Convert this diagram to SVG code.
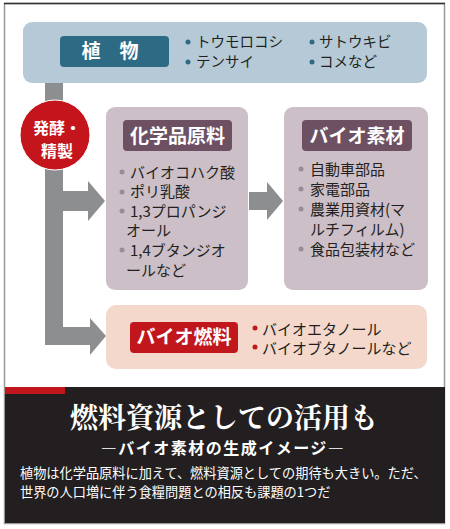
<svg xmlns="http://www.w3.org/2000/svg" width="450" height="529" viewBox="0 0 450 529">
<style>
text{font-family:"Noto Sans CJK JP","Noto Sans",sans-serif;}
.item{font-size:15px;fill:#231f20;}
.pitem{font-size:14.5px;fill:#231f20;}
.lbl{font-size:19px;font-weight:bold;fill:#fff;text-anchor:middle;}
.conn{fill:#8d8e90;}
.card{fill:#cdbfc7;}
.clbl{fill:#6d5061;}
.cdot{fill:#9d8a95;}
.pdot{fill:#2d6a84;}
.fdot{fill:#c1161c;}
</style>
<rect x="0" y="0" width="450" height="529" fill="#fff"/>
<rect x="4.5" y="3.5" width="440" height="520" fill="#fff" stroke="#9a9a9a" stroke-width="1.5"/>
<line x1="4" y1="3.5" x2="445" y2="3.5" stroke="#333" stroke-width="1.5"/>

<g id="connectors">
  <rect class="conn" x="45" y="83" width="18" height="262"/>
  <rect class="conn" x="45" y="191" width="44" height="20"/>
  <polygon class="conn" points="88,181 105,201 88,221"/>
  <rect class="conn" x="45" y="327" width="46" height="18"/>
  <polygon class="conn" points="90,318 106,336 90,355"/>
  <rect class="conn" x="249" y="192" width="19" height="18"/>
  <polygon class="conn" points="267,182 283,201 267,220"/>
</g>

<g id="plant">
  <rect x="23" y="22" width="404" height="61" rx="9" fill="#b5cad6"/>
  <rect x="60" y="36" width="109" height="31" rx="4" fill="#2d6a84"/>
  <text x="110" y="58" style="font-size:19px;font-weight:bold;fill:#fff;text-anchor:middle">植　物</text>
  <circle class="pdot" cx="188" cy="42" r="2.5"/>
  <text class="pitem" x="196" y="47">トウモロコシ</text>
  <circle class="pdot" cx="188" cy="62" r="2.5"/>
  <text class="pitem" x="196" y="67">テンサイ</text>
  <circle class="pdot" cx="312" cy="42" r="2.5"/>
  <text class="pitem" x="319" y="47">サトウキビ</text>
  <circle class="pdot" cx="312" cy="62" r="2.5"/>
  <text class="pitem" x="319" y="67">コメなど</text>
</g>

<g id="process">
  <circle cx="55" cy="135" r="35" fill="#c4141c" stroke="#fff" stroke-width="1"/>
  <text x="57" y="134" style="font-size:16px;font-weight:bold;fill:#fff;text-anchor:middle">発酵・</text>
  <text x="57" y="157" style="font-size:16px;font-weight:bold;fill:#fff;text-anchor:middle">精製</text>
</g>

<g id="chemical">
  <rect class="card" x="106" y="107" width="142" height="183" rx="9"/>
  <rect class="clbl" x="123" y="120" width="109" height="31" rx="4"/>
  <text class="lbl" x="177.5" y="143">化学品原料</text>
  <circle class="cdot" cx="122" cy="172" r="2.5"/>
  <text class="item" x="130" y="178">バイオコハク酸</text>
  <circle class="cdot" cx="122" cy="192" r="2.5"/>
  <text class="item" x="130" y="197">ポリ乳酸</text>
  <circle class="cdot" cx="122" cy="211" r="2.5"/>
  <text class="item" x="130" y="217">1,3プロパンジ</text>
  <text class="item" x="126" y="236">オール</text>
  <circle class="cdot" cx="122" cy="250" r="2.5"/>
  <text class="item" x="130" y="256">1,4ブタンジオ</text>
  <text class="item" x="126" y="276">ールなど</text>
</g>

<g id="biomaterial">
  <rect class="card" x="284" y="107" width="144" height="183" rx="9"/>
  <rect class="clbl" x="302" y="120" width="110" height="31" rx="4"/>
  <text class="lbl" x="357" y="143">バイオ素材</text>
  <circle class="cdot" cx="301" cy="169" r="2.5"/>
  <text class="item" x="310" y="175">自動車部品</text>
  <circle class="cdot" cx="301" cy="189" r="2.5"/>
  <text class="item" x="310" y="195">家電部品</text>
  <circle class="cdot" cx="301" cy="209" r="2.5"/>
  <text class="item" x="310" y="215">農業用資材(マ</text>
  <text class="item" x="310" y="235">ルチフィルム)</text>
  <circle class="cdot" cx="301" cy="249" r="2.5"/>
  <text class="item" x="310" y="255">食品包装材など</text>
</g>

<g id="fuel">
  <rect x="106" y="305" width="321" height="64" rx="10" fill="#f3d8cb"/>
  <rect x="130" y="322" width="108" height="31" rx="4" fill="#c1161c"/>
  <text class="lbl" x="184" y="344">バイオ燃料</text>
  <circle class="fdot" cx="255" cy="328" r="2.5"/>
  <text class="item" x="262" y="335">バイオエタノール</text>
  <circle class="fdot" cx="255" cy="347" r="2.5"/>
  <text class="item" x="262" y="354">バイオブタノールなど</text>
</g>

<g id="caption">
  <rect x="5" y="387" width="440" height="136" fill="#231f20"/>
  <rect x="5" y="387" width="60" height="7" fill="#c1161c"/>
  <text x="224" y="428" style="font-family:'Noto Serif CJK JP','Liberation Serif','Noto Sans CJK JP',serif;font-size:28px;font-weight:bold;fill:#fff;text-anchor:middle">燃料資源としての活用も</text>
  <text x="223" y="454" style="font-size:16px;font-weight:bold;fill:#fff;text-anchor:middle;letter-spacing:1.5px">―バイオ素材の生成イメージ―</text>
  <text x="20" y="478" style="font-size:13.2px;fill:#fff">植物は化学品原料に加えて、燃料資源としての期待も大きい。ただ、</text>
  <text x="20" y="497" style="font-size:13.2px;fill:#fff">世界の人口増に伴う食糧問題との相反も課題の1つだ</text>
</g>
</svg>
